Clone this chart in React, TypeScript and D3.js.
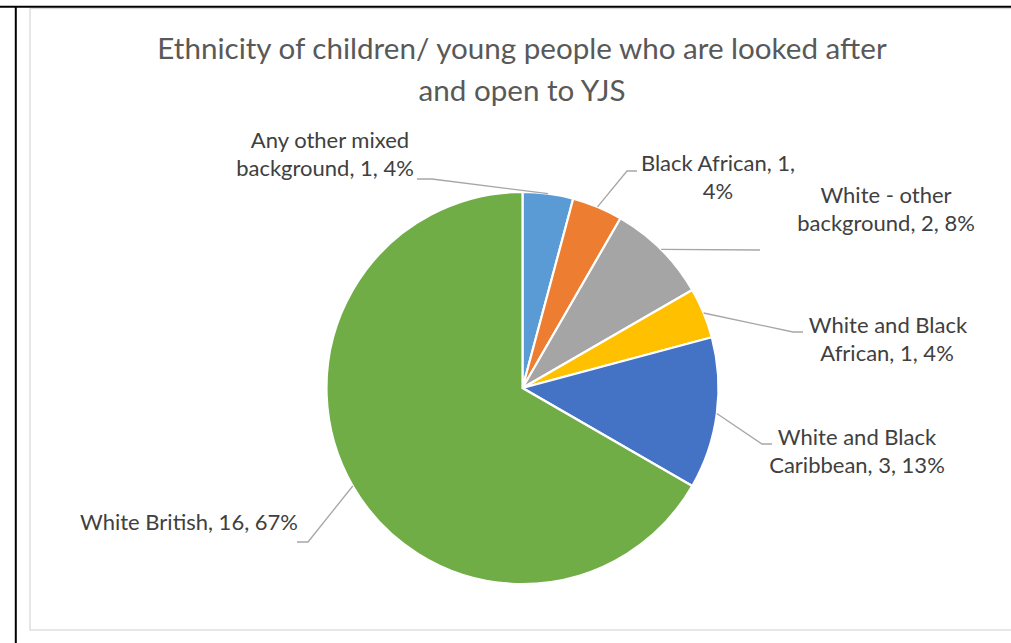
import React from "react";
import * as d3 from "d3";

const categories = [
  "Any other mixed background",
  "Black African",
  "White - other background",
  "White and Black African",
  "White and Black Caribbean",
  "White British",
];
const values = [1, 1, 2, 1, 3, 16];
const colors = ["#5B9BD5", "#ED7D31", "#A5A5A5", "#FFC000", "#4472C4", "#70AD47"];
const titleLines = ["Ethnicity of children/ young people who are looked after", "and open to YJS"];

// label layout: wrapped lines, line positions and leader elbows
const labelLines = [
  ["Any other mixed", "background, 1, 4%"],
  ["Black African, 1,", "4%"],
  ["White - other", "background, 2, 8%"],
  ["White and Black", "African, 1, 4%"],
  ["White and Black", "Caribbean, 3, 13%"],
  ["White British, 16, 67%"],
];
const labelX = [[330, 325], [718, 718], [886, 886], [888, 887], [857, 857], [189]];
const labelY = [148, 171, 203, 333, 445, 530];
const leaderElbows: [number, number][][] = [
  [[432, 179], [417, 179]],
  [[627, 171], [637, 171]],
  [[760, 250]],
  [[793, 332], [803, 332]],
  [[762, 444], [772, 444]],
  [[308, 542], [297, 542]],
];

export default function App() {
  const W = 1011, H = 643;
  const cx = 522.5, cy = 388, r = 196;
  const pie = d3.pie<number>().sort(null).value((d) => d);
  const arcs = pie(values);
  const arc = d3.arc<d3.PieArcDatum<number>>().innerRadius(0).outerRadius(r);
  const lineGen = d3.line();
  const font = "Lato, 'Open Sans', sans-serif";
  const lh = 28;

  return (
    <svg width={W} height={H} style={{ position: "absolute", left: 0, top: 0, background: "#fff" }}>
      <rect x={0} y={0} width={W} height={H} fill="#fff" />
      <rect x={30} y={8.5} width={W + 10} height={621.5} fill="#fff" stroke="#D9D9D9" strokeWidth={1.3} />
      <line x1={0} x2={W} y1={6.8} y2={6.8} stroke="#000" strokeWidth={2} />
      <line x1={15.8} x2={15.8} y1={6} y2={H} stroke="#000" strokeWidth={2} />
      {titleLines.map((t, i) => (
        <text key={i} x={522} y={59 + i * 42} textAnchor="middle" fontFamily={font} fontSize={29.6} fill="#595959">
          {t}
        </text>
      ))}
      <g transform={`translate(${cx},${cy})`}>
        {arcs.map((a, i) => (
          <path key={categories[i]} d={arc(a) || ""} fill={colors[i]} stroke="#fff" strokeWidth={2.2} />
        ))}
      </g>
      {arcs.map((a, i) => {
        const mid = (a.startAngle + a.endAngle) / 2;
        const p: [number, number] = [cx + r * Math.sin(mid), cy - r * Math.cos(mid)];
        const pts = [p, ...leaderElbows[i]];
        return <path key={"l" + i} d={lineGen(pts) || ""} fill="none" stroke="#A6A6A6" strokeWidth={1.3} />;
      })}
      {labelLines.map((lines, i) =>
        lines.map((t, j) => (
          <text key={i + "-" + j} x={labelX[i][j]} y={labelY[i] + j * lh} textAnchor="middle" fontFamily={font} fontSize={22} fill="#404040">
            {t}
          </text>
        ))
      )}
    </svg>
  );
}
